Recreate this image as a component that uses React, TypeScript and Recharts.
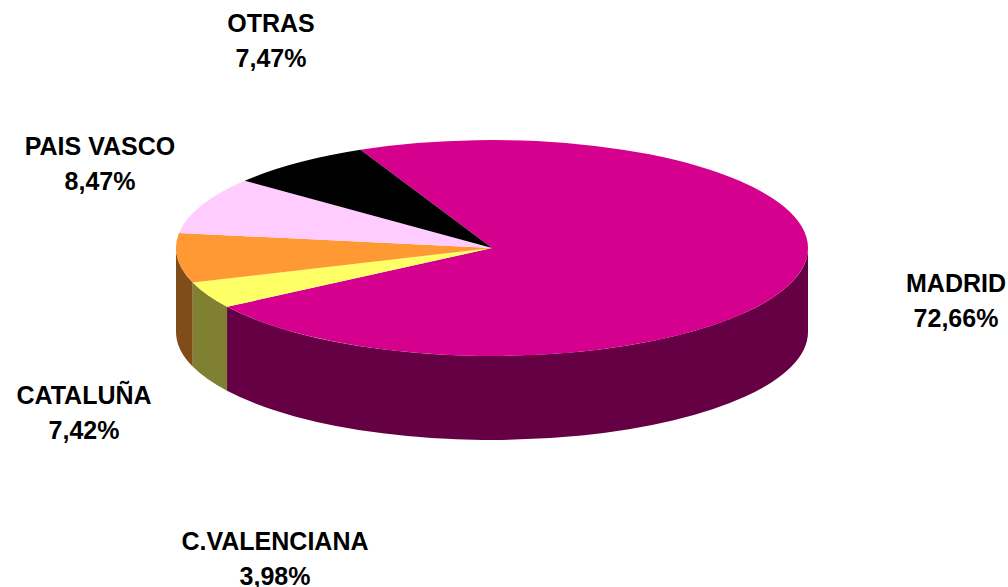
import React from 'react';
import { PieChart, Pie } from 'recharts';

const regions = ['MADRID', 'C.VALENCIANA', 'CATALUÑA', 'PAIS VASCO', 'OTRAS'];
const shares = [72.66, 3.98, 7.42, 8.47, 7.47];
const topColors = ['#D6008F', '#FFFF66', '#FF9933', '#FFCCFF', '#000000'];
const sideColors = ['#660044', '#808033', '#804C19', '#806680', '#000000'];

// centre of each two-line label, and the baseline of its first line
const labelSpots: Record<string, [number, number]> = {
  'MADRID': [956, 292],
  'C.VALENCIANA': [275, 550],
  'CATALUÑA': [84, 404],
  'PAIS VASCO': [100, 155],
  'OTRAS': [271, 32],
};

const RX = 316;
const RY = 108;
const DEPTH = 84;
const RAD = Math.PI / 180;

const rows = regions.map((name, i) => ({ name, value: shares[i], fill: topColors[i] }));
const sideRows = regions.map((name, i) => ({ name, value: shares[i], fill: sideColors[i] }));

const onRim = (cx: number, cy: number, deg: number) => [
  cx + RX * Math.cos(deg * RAD),
  cy - RY * Math.sin(deg * RAD),
];

// Recharts gives a round sector, squash it to lie on the tilted disc
const TopSlice = (props: any) => {
  const { cx, cy, startAngle, endAngle, fill } = props;
  const [x1, y1] = onRim(cx, cy, startAngle);
  const [x2, y2] = onRim(cx, cy, endAngle);
  const large = Math.abs(startAngle - endAngle) > 180 ? 1 : 0;
  return <path d={`M${cx},${cy}L${x1},${y1}A${RX},${RY} 0 ${large} 1 ${x2},${y2}Z`} fill={fill} />;
};

// Only the front half of the rim shows, that is angles 0 to -180 here
const SideSlice = (props: any) => {
  const { cx, cy, startAngle, endAngle, fill } = props;
  const from = Math.min(startAngle, 0);
  const to = Math.max(endAngle, -180);
  if (from <= to) return null;
  const [x1, y1] = onRim(cx, cy, from);
  const [x2, y2] = onRim(cx, cy, to);
  const d = `M${x1},${y1}A${RX},${RY} 0 0 1 ${x2},${y2}L${x2},${y2 + DEPTH}A${RX},${RY} 0 0 0 ${x1},${y1 + DEPTH}Z`;
  return <path d={d} fill={fill} />;
};

const SliceLabel = (props: any) => {
  const { name, value } = props;
  const [x, y] = labelSpots[name];
  const textStyle = { fontFamily: '"Liberation Sans", Arial, sans-serif', fontSize: 25, fontWeight: 700 };
  return (
    <text textAnchor="middle" fill="#000000" style={textStyle}>
      <tspan x={x} y={y}>{name}</tspan>
      <tspan x={x} y={y + 35}>{String(value).replace('.', ',')}%</tspan>
    </text>
  );
};

export default function App() {
  return (
    <div style={{ position: 'absolute', left: 0, top: 0, width: 1008, height: 587 }}>
      <PieChart width={1008} height={587} margin={{ top: 0, right: 0, bottom: 0, left: 0 }}>
        <Pie
          data={sideRows}
          dataKey="value"
          nameKey="name"
          cx={492}
          cy={248}
          outerRadius={RX}
          startAngle={114.6}
          endAngle={-245.4}
          stroke="none"
          shape={SideSlice}
          isAnimationActive={false}
        />
        <Pie
          data={rows}
          dataKey="value"
          nameKey="name"
          cx={492}
          cy={248}
          outerRadius={RX}
          startAngle={114.6}
          endAngle={-245.4}
          stroke="none"
          shape={TopSlice}
          label={SliceLabel}
          labelLine={false}
          isAnimationActive={false}
        />
      </PieChart>
    </div>
  );
}
